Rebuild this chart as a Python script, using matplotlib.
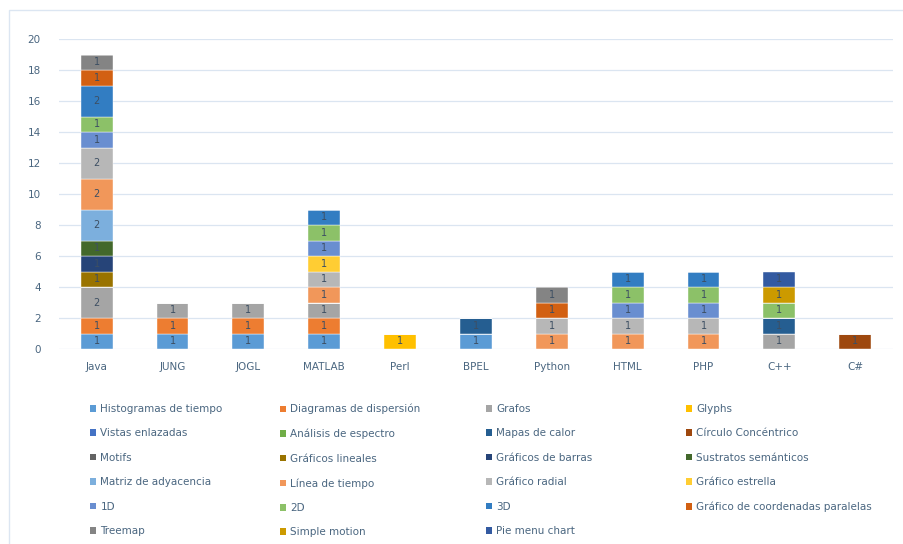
import numpy as np
import matplotlib
matplotlib.use("Agg")
import matplotlib.pyplot as plt
from matplotlib.patches import Rectangle, Patch

# categories on the x axis
categories = ['Java', 'JUNG', 'JOGL', 'MATLAB', 'Perl', 'BPEL',
              'Python', 'HTML', 'PHP', 'C++', 'C#']

# series names (legend order = stacking order)
series_names = [
    'Histogramas de tiempo', 'Diagramas de dispersión', 'Grafos', 'Glyphs',
    'Vistas enlazadas', 'Análisis de espectro', 'Mapas de calor', 'Círculo Concéntrico',
    'Motifs', 'Gráficos lineales', 'Gráficos de barras', 'Sustratos semánticos',
    'Matriz de adyacencia', 'Línea de tiempo', 'Gráfico radial', 'Gráfico estrella',
    '1D', '2D', '3D', 'Gráfico de coordenadas paralelas',
    'Treemap', 'Simple motion', 'Pie menu chart',
]

#                  Java JUNG JOGL MATL Perl BPEL Pyth HTML PHP  C++  C#
histogramas     = [1, 1, 1, 1, 0, 1, 0, 0, 0, 0, 0]
diagramas       = [1, 1, 1, 1, 0, 0, 0, 0, 0, 0, 0]
grafos          = [2, 1, 1, 1, 0, 0, 0, 0, 0, 1, 0]
glyphs          = [0, 0, 0, 0, 1, 0, 0, 0, 0, 0, 0]
vistas          = [0, 0, 0, 0, 0, 0, 0, 0, 0, 0, 0]
analisis        = [0, 0, 0, 0, 0, 0, 0, 0, 0, 0, 0]
mapas_calor     = [0, 0, 0, 0, 0, 1, 0, 0, 0, 1, 0]
circulo         = [0, 0, 0, 0, 0, 0, 0, 0, 0, 0, 1]
motifs          = [0, 0, 0, 0, 0, 0, 0, 0, 0, 0, 0]
lineales        = [1, 0, 0, 0, 0, 0, 0, 0, 0, 0, 0]
barras          = [1, 0, 0, 0, 0, 0, 0, 0, 0, 0, 0]
sustratos       = [1, 0, 0, 0, 0, 0, 0, 0, 0, 0, 0]
matriz          = [2, 0, 0, 0, 0, 0, 0, 0, 0, 0, 0]
linea_tiempo    = [2, 0, 0, 1, 0, 0, 1, 1, 1, 0, 0]
radial          = [2, 0, 0, 1, 0, 0, 1, 1, 1, 0, 0]
estrella        = [0, 0, 0, 1, 0, 0, 0, 0, 0, 0, 0]
d1              = [1, 0, 0, 1, 0, 0, 0, 1, 1, 0, 0]
d2              = [1, 0, 0, 1, 0, 0, 0, 1, 1, 1, 0]
d3              = [2, 0, 0, 1, 0, 0, 0, 1, 1, 0, 0]
paralelas       = [1, 0, 0, 0, 0, 0, 1, 0, 0, 0, 0]
treemap         = [1, 0, 0, 0, 0, 0, 1, 0, 0, 0, 0]
simple_motion   = [0, 0, 0, 0, 0, 0, 0, 0, 0, 1, 0]
pie_menu        = [0, 0, 0, 0, 0, 0, 0, 0, 0, 1, 0]

series_values = [histogramas, diagramas, grafos, glyphs, vistas, analisis,
                 mapas_calor, circulo, motifs, lineales, barras, sustratos,
                 matriz, linea_tiempo, radial, estrella, d1, d2, d3,
                 paralelas, treemap, simple_motion, pie_menu]

colors = ['#5B9BD5', '#ED7D31', '#A5A5A5', '#FFC000', '#4472C4', '#70AD47',
          '#255E91', '#9E480E', '#636363', '#997300', '#264478', '#43682B',
          '#7CAFDD', '#F1975A', '#B7B7B7', '#FFCD33', '#698ED0', '#8CC168',
          '#327DC2', '#D26012', '#848484', '#CC9A00', '#335AA1']

text_col = '#4a6680'

fig = plt.figure(figsize=(9.04, 5.44), dpi=100)
ax = fig.add_axes([0.065, 0.358, 0.923, 0.570])

x = np.arange(len(categories))
bottom = np.zeros(len(categories))
for name, vals, c in zip(series_names, series_values, colors):
    vals = np.array(vals, dtype=float)
    bars = ax.bar(x, vals, 0.42, bottom=bottom, color=c, label=name,
                  edgecolor='white', linewidth=0.3, zorder=3)
    labels = [str(int(v)) if v > 0 else '' for v in vals]
    ax.bar_label(bars, labels=labels, label_type='center', fontsize=7,
                 color='#3d4f63', zorder=4)
    bottom += vals

ax.set_xlim(-0.5, len(categories) - 0.5)
ax.set_ylim(0, 20)
ax.set_yticks(np.arange(0, 21, 2))
ax.set_xticks(x)
ax.set_xticklabels(categories)
ax.tick_params(length=0, labelsize=7.5, labelcolor=text_col)
ax.tick_params(axis='x', pad=9)
ax.tick_params(axis='y', pad=13)
ax.grid(axis='y', color='#dbe5f1', linewidth=0.9, zorder=0)
for s in ax.spines.values():
    s.set_visible(False)

# outer chart border
fig.patches.append(Rectangle((9 / 904, -0.1), 1.0, 1 - 10 / 544 + 0.1,
                             transform=fig.transFigure, fill=False,
                             edgecolor='#dce6f2', linewidth=1.0))

# legend: 4 columns, row-major
col_x = [90 / 904, 280 / 904, 486 / 904, 686 / 904]
for c in range(4):
    handles = [Patch(facecolor=colors[i], edgecolor='none', label=series_names[i])
               for i in range(c, len(series_names), 4)]
    fig.legend(handles=handles, loc='upper left',
               bbox_to_anchor=(col_x[c], 1 - 404 / 544), frameon=False,
               fontsize=7.5, labelcolor=text_col, handlelength=0.6,
               handleheight=0.6, handletextpad=0.4, labelspacing=1.38,
               borderaxespad=0, borderpad=0)

fig.savefig('out.png', dpi=100)
